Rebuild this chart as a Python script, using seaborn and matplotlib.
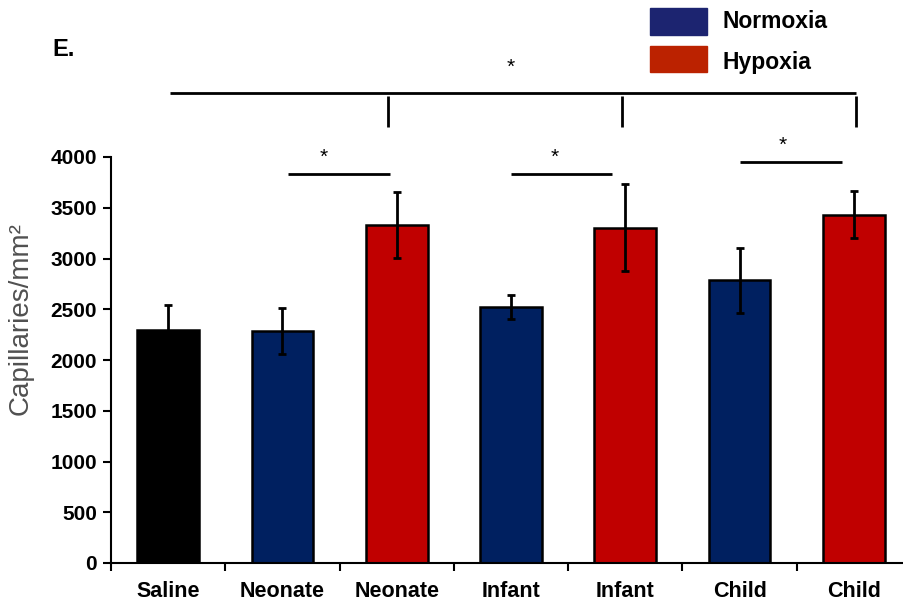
import matplotlib
matplotlib.use("Agg")
import matplotlib.pyplot as plt
import seaborn as sns
import pandas as pd
import numpy as np

# Capillary density per group (mean ± error)
labels = ["Saline", "Neonate", "Neonate", "Infant", "Infant", "Child", "Child"]
groups = ["Saline", "Normoxia", "Hypoxia", "Normoxia", "Hypoxia", "Normoxia", "Hypoxia"]
means = [2295, 2285, 3328, 2520, 3305, 2785, 3432]
errors = [250, 225, 323, 120, 425, 320, 232]
yticks = [0, 500, 1000, 1500, 2000, 2500, 3000, 3500, 4000]

bar_colors = {"Saline": "#000000", "Normoxia": "#002060", "Hypoxia": "#C00000"}

sns.set_style("white")
plt.rcParams["font.family"] = ["Liberation Sans", "DejaVu Sans"]
plt.rcParams["text.color"] = "black"
plt.rcParams["xtick.color"] = "black"
plt.rcParams["ytick.color"] = "black"

fig = plt.figure(figsize=(9.04, 6.02), dpi=100)
ax = fig.add_axes([111 / 904, 1 - 563 / 602, 800 / 904, (563 - 157) / 602])

df = pd.DataFrame({"pos": [str(i) for i in range(len(labels))],
                   "value": means, "group": groups})
sns.barplot(data=df, x="pos", y="value", hue="group", palette=bar_colors,
            dodge=False, width=0.54, edgecolor="black", linewidth=1.8,
            saturation=1, errorbar=None, legend=False, ax=ax)

ax.errorbar(np.arange(len(means)), means, yerr=errors, fmt="none",
            ecolor="black", elinewidth=2, capsize=3, capthick=2, zorder=5)

ax.set_xlim(-0.5, 6.5)
ax.set_ylim(0, 4000)
ax.set_yticks(yticks)
ax.set_yticklabels([str(v) for v in yticks], fontsize=15, fontweight="bold")
ax.set_xticks(np.arange(-0.5, 6.6, 1.0))
ax.set_xticklabels([])
ax.set_xticks(np.arange(len(labels)), minor=True)
ax.set_xticklabels(labels, minor=True, fontsize=15.5, fontweight="bold")
ax.tick_params(axis="x", which="major", direction="out", length=6, width=1.5,
               bottom=True, color="black")
ax.tick_params(axis="x", which="minor", length=0, pad=13)
ax.tick_params(axis="y", direction="out", length=6, width=1.5, left=True,
               color="black", pad=4)
ax.set_xlabel("")
ax.set_ylabel("Capillaries/mm²", fontsize=20, color="#505050")
ax.yaxis.set_label_coords(-0.097, 0.603)
for side in ["top", "right"]:
    ax.spines[side].set_visible(False)
for side in ["left", "bottom"]:
    ax.spines[side].set_color("black")
    ax.spines[side].set_linewidth(1.5)

# Significance brackets
line_kw = dict(color="black", lw=2, clip_on=False, solid_capstyle="butt")
ax.plot([0.02, 6.02], [4635, 4635], **line_kw)
for xv in [1.92, 3.97, 6.02]:
    ax.plot([xv, xv], [4600, 4300], **line_kw)
ax.text(3.0, 4880, "*", ha="center", va="center", fontsize=15)
pairs = [(1.05, 1.94, 3836, 1.36), (3.0, 3.88, 3836, 3.38), (5.0, 5.9, 3955, 5.38)]
for x0, x1, yv, xs in pairs:
    ax.plot([x0, x1], [yv, yv], **line_kw)
    ax.text(xs, yv + 160, "*", ha="center", va="center", fontsize=15)

# Panel letter and legend
fig.text(52 / 904, 1 - 50 / 602, "E.", fontsize=17, fontweight="bold",
         ha="left", va="center")
fig.patches.append(plt.Rectangle((650 / 904, 1 - 35 / 602), 57 / 904, 27 / 602,
                                 transform=fig.transFigure, color="#1c2470"))
fig.patches.append(plt.Rectangle((650 / 904, 1 - 72 / 602), 57 / 904, 26 / 602,
                                 transform=fig.transFigure, color="#bb2200"))
fig.text(723 / 904, 1 - 21 / 602, "Normoxia", fontsize=16.5, fontweight="bold",
         ha="left", va="center")
fig.text(723 / 904, 1 - 62 / 602, "Hypoxia", fontsize=16.5, fontweight="bold",
         ha="left", va="center")

fig.savefig("out.png", dpi=100)
